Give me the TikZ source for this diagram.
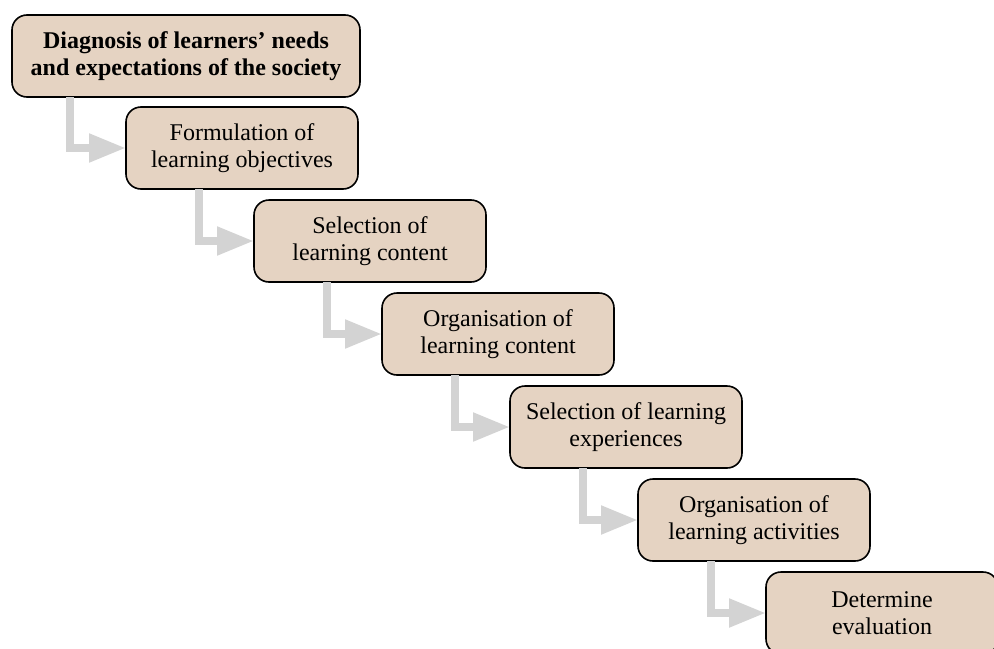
\documentclass[tikz,border=0pt]{standalone}
\usepackage{fontspec}
\setmainfont{Liberation Serif}
\usepackage{tikz}
\usetikzlibrary{positioning, arrows.meta}
\definecolor{T}{RGB}{229,211,194}
\definecolor{L}{RGB}{211,211,211}
\tikzstyle{stage} = [rectangle,
rounded corners=7.5pt,
line width=0.8pt,
minimum width=116pt,
minimum height=41pt,
inner sep=0pt, outer sep=0pt,
align=center,
font=\fontsize{12}{13.5}\selectfont,
draw=black, fill=T]
\tikzstyle{flow} = [-{Triangle[length=18.5pt,width=13.5pt]}, line width=4pt, draw=L]

\begin{document}
\begin{tikzpicture}[node distance=5.5pt and -52pt]
      \useasboundingbox (0,0) rectangle (497pt,-324pt);

      \node[stage, minimum width=174pt, anchor=north west, font=\fontsize{12}{13.5}\selectfont\bfseries]
            (s1) at (6pt,-7.5pt) {Diagnosis of learners' needs\\and expectations of the society};
      \node[stage, below right=5pt and -117pt of s1] (s2) {Formulation of\\learning objectives};
      \node[stage, below right=of s2] (s3) {Selection of\\learning content};
      \node[stage, below right=of s3] (s4) {Organisation of\\learning content};
      \node[stage, below right=of s4] (s5) {Selection of learning\\experiences};
      \node[stage, below right=of s5] (s6) {Organisation of\\learning activities};
      \node[stage, below right=of s6] (s7) {Determine\\evaluation};

      \draw[flow] ([xshift=29pt]s1.south west)   |- (s2.west);
      \draw[flow] ([xshift=36.5pt]s2.south west) |- (s3.west);
      \draw[flow] ([xshift=36.5pt]s3.south west) |- (s4.west);
      \draw[flow] ([xshift=36.5pt]s4.south west) |- (s5.west);
      \draw[flow] ([xshift=36.5pt]s5.south west) |- (s6.west);
      \draw[flow] ([xshift=36.5pt]s6.south west) |- (s7.west);
    \end{tikzpicture}
\end{document}
